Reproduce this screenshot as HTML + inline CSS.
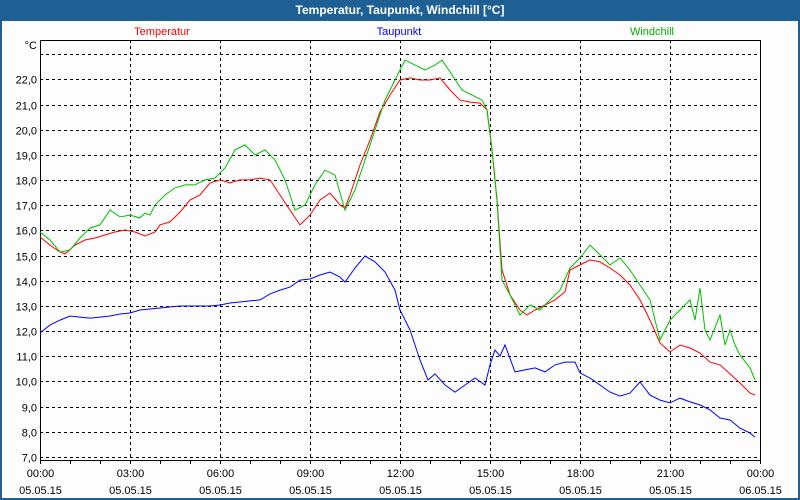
<!DOCTYPE html>
<html><head><meta charset="utf-8"><style>
body{margin:0;width:800px;height:500px;overflow:hidden;background:#fff;font-family:"Liberation Sans",sans-serif}
#wrap{position:absolute;left:0;top:0;width:800px;height:500px;box-sizing:border-box;border:2px solid #1f6094;border-top:none;background:#fdfdfd}
#title{position:absolute;left:0;top:0;width:800px;height:21px;background:#1f6094;color:#fff;font-weight:bold;font-size:12px;line-height:21px;text-align:center}
</style></head><body>
<div id="wrap"></div>
<div id="title">Temperatur, Taupunkt, Windchill [°C]</div>
<svg id="chart" width="800" height="500" style="position:absolute;left:0;top:0"></svg>
<script>
const yTicks=[7,8,9,10,11,12,13,14,15,16,17,18,19,20,21,22,23];
const xTickHours=[0,3,6,9,12,15,18,21,24];
const xTickLabels=["00:00","03:00","06:00","09:00","12:00","15:00","18:00","21:00","00:00"];
const xTickDates=["05.05.15","05.05.15","05.05.15","05.05.15","05.05.15","05.05.15","05.05.15","05.05.15","06.05.15"];
const seriesNames=["Temperatur","Taupunkt","Windchill"];
const tempMin=[0,20,40,50,70,90,110,130,150,170,190,210,230,240,260,280,300,320,340,360,380,400,420,440,460,480,500,520,540,560,580,600,610,620,640,660,680,700,720,740,760,780,800,820,840,860,880,894,904,914,924,940,960,974,990,1010,1030,1050,1060,1080,1100,1120,1140,1160,1180,1200,1220,1240,1260,1280,1300,1320,1340,1360,1380,1400,1420,1430];
const tempVal=[15.74,15.42,15.14,15.07,15.42,15.62,15.70,15.82,15.94,16.02,15.94,15.78,15.94,16.22,16.34,16.73,17.21,17.41,17.89,18.01,17.89,18.01,18.01,18.08,18.01,17.41,16.81,16.22,16.61,17.21,17.49,17.01,16.89,17.41,18.60,19.59,20.71,21.38,21.98,22.06,21.98,21.98,22.06,21.58,21.18,21.10,21.06,20.79,19.20,17.21,14.43,13.44,12.84,12.64,12.84,13.04,13.24,13.56,14.43,14.63,14.83,14.75,14.51,14.23,13.83,13.24,12.44,11.53,11.17,11.45,11.33,11.13,10.77,10.66,10.30,9.94,9.54,9.46];
const chillX=[40,50,60,70,80,90,100,110,120,130,140,145,150,155,165,175,185,195,205,215,225,235,245,255,265,275,285,295,305,315,325,335,345,355,365,375,385,395,405,415,425,435,442,452,462,472,482,487,492,497,502,510,520,530,540,550,560,570,580,590,600,610,620,630,640,650,660,670,680,690,695,700,705,710,720,725,730,735,740,750,755];
const chillVal=[15.94,15.62,15.14,15.22,15.70,16.10,16.22,16.81,16.54,16.61,16.50,16.69,16.61,17.01,17.41,17.69,17.81,17.81,18.01,18.08,18.48,19.20,19.40,19.00,19.20,18.80,18.01,16.81,17.01,17.81,18.40,18.20,16.81,17.61,18.80,19.99,21.18,21.98,22.77,22.57,22.38,22.57,22.77,22.18,21.58,21.38,21.18,20.79,19.20,17.21,14.03,13.44,12.64,13.04,12.84,13.24,13.63,14.51,14.91,15.42,15.03,14.63,14.91,14.43,13.83,13.24,11.65,12.44,12.84,13.24,12.44,13.71,12.05,11.65,12.64,11.45,12.05,11.45,11.05,10.54,10.06];
const dewX=[40,50,60,70,80,90,100,110,120,130,140,150,160,170,180,190,200,210,220,230,240,250,260,270,280,290,300,310,320,330,340,345,355,365,375,385,395,400,410,420,428,435,445,455,465,475,485,490,495,500,505,515,525,535,545,555,565,575,580,590,600,610,620,630,640,650,660,670,680,690,700,710,720,730,740,750,755];
const dewVal=[11.93,12.24,12.44,12.60,12.56,12.52,12.56,12.60,12.68,12.72,12.84,12.88,12.92,12.96,13.00,13.00,13.00,13.00,13.04,13.12,13.16,13.20,13.24,13.48,13.63,13.75,14.03,14.07,14.23,14.35,14.15,13.95,14.51,14.99,14.75,14.35,13.63,12.84,12.05,10.85,10.06,10.30,9.86,9.58,9.86,10.14,9.86,10.66,11.25,11.01,11.45,10.38,10.46,10.54,10.38,10.66,10.77,10.77,10.34,10.14,9.86,9.58,9.42,9.54,9.98,9.46,9.26,9.15,9.34,9.19,9.07,8.87,8.55,8.47,8.15,7.95,7.79];

const NS="http://www.w3.org/2000/svg";
const svg=document.getElementById('chart');
const L=40,R=760,T=40,B=460;
function xH(h){return L+h*30;}
function xM(m){return L+m*0.5;}
function xP(p){return xM((p-40)*2);}
function yV(v){return 457-(v-7)*25.17;}
function mk(tag,attrs){const e=document.createElementNS(NS,tag);for(const k in attrs)e.setAttribute(k,attrs[k]);svg.appendChild(e);return e;}
// horizontal grid + y labels
yTicks.forEach(v=>{
  const y=Math.round(yV(v))+0.5;
  const g=mk('line',{x1:L,x2:R,y1:y,y2:y,stroke:'#000','stroke-dasharray':'3,3'});
  
  
  if(v<23){
    const t=mk('text',{x:L-3,y:y+4,'text-anchor':'end','font-size':'11',fill:'#000'});
    t.textContent=v.toFixed(1).replace('.',',');
    
    
  }
});
const unit=mk('text',{x:L-3,y:T+9,'text-anchor':'end','font-size':'11'});
unit.textContent='°C';


// vertical grid + labels
xTickHours.forEach((h,i)=>{
  const x=Math.round(xH(h))+0.5;
  if(h>0&&h<24){
    const g=mk('line',{x1:x,x2:x,y1:T,y2:B,stroke:'#000','stroke-dasharray':'3,3'});
    
    
  }
  const t=mk('text',{x:x,y:477,'text-anchor':'middle','font-size':'11'});
  t.textContent=xTickLabels[i];
  
  
  const d=mk('text',{x:x,y:494,'text-anchor':'middle','font-size':'11'});
  d.textContent=xTickDates[i];
  
  
});
for(let h=0;h<=24;h++){
  const x=Math.round(xH(h))+0.5;
  const tk=mk('line',{x1:x,x2:x,y1:B,y2:B+4,stroke:'#000'});
  
  
}
const frame=mk('path',{d:`M${L+0.5},${T+0.5}V${B+0.5}H${R+0.5}V${T+0.5}H${L+0.5}`,fill:'none',stroke:'#000'});


function line(xs,vs,fx,col,name){
  const p=xs.map((x,i)=>fx(x).toFixed(1)+','+yV(vs[i]).toFixed(1)).join(' ');
  const e=mk('polyline',{points:p,fill:'none',stroke:col,'stroke-width':'1'});
  
  
}
line(dewX,dewVal,xP,'#0000ff','dewpoint-line');
line(tempMin,tempVal,xM,'#ff0000','temperature-line');
line(chillX,chillVal,xP,'#00c000','windchill-line');
const legCols=['#ff0000','#0000ff','#00b000'];
const legX=[162,399,652];
seriesNames.forEach((n,i)=>{
  const t=mk('text',{x:legX[i],y:35,'text-anchor':'middle','font-size':'11',fill:legCols[i]});
  t.textContent=n;
  
  
});
</script>
</body></html>
